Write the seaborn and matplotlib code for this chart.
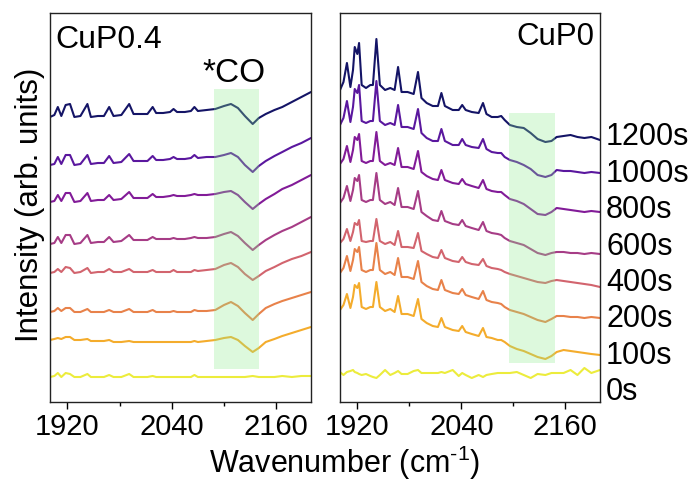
import numpy as np
import pandas as pd
import matplotlib
matplotlib.use("Agg")
import matplotlib.pyplot as plt
from matplotlib.ticker import MultipleLocator, NullLocator
import seaborn as sns

# ---------------- data ----------------
times = ["1200s", "1000s", "800s", "600s", "400s", "200s", "100s", "0s"]
colors = ["#141466", "#5a179e", "#821b98", "#a63c86", "#d2646e", "#e8824a", "#f4ac2c", "#ecec3c"]

# CuP0.4 panel
x_left = [1900, 1905, 1909, 1913, 1918, 1923, 1928, 1935, 1943, 1947, 1955, 1962, 1968, 1973, 1982,
          1991, 1996, 2005, 2012, 2018, 2022, 2030, 2038, 2042, 2046, 2055, 2062, 2066, 2070, 2080,
          2090, 2100, 2108, 2116, 2124, 2133, 2140, 2148, 2158, 2167, 2178, 2189, 2200]
offsets_left = [285, 237, 200, 158, 129, 90, 62, 25]
left_1200s = [0, 2, 10, 1, 12, 13, 0, 1, 13, 0, 1, 1, 10, 1, 2, 13, 3, 3, 3, 10, 4, 4, 5, 8, 5, 5, 6, 10, 6, 7,
              8, 11, 13, 9, 1, -7, -1, 3, 7, 10, 15, 20, 25]
left_1000s = [0, 1, 8, 1, 10, 10, 0, 1, 10, 1, 2, 2, 9, 2, 3, 11, 4, 4, 4, 9, 5, 5, 6, 8, 6, 6, 7, 10, 7, 8,
              8, 10, 12, 8, 0, -7, -1, 4, 9, 13, 18, 22, 27]
left_800s = [0, 1, 7, 1, 9, 9, 0, 1, 9, 1, 2, 2, 7, 2, 3, 10, 4, 4, 4, 8, 5, 5, 6, 7, 6, 6, 7, 8, 7, 7,
             8, 10, 11, 7, 0, -7, -2, 3, 8, 13, 17, 22, 27]
left_600s = [0, 1, 7, 1, 9, 9, 0, 1, 9, 1, 2, 2, 7, 2, 3, 9, 4, 4, 4, 7, 5, 5, 5, 6, 5, 5, 6, 7, 6, 6,
             7, 10, 12, 8, 1, -6, -1, 4, 9, 13, 17, 22, 27]
left_400s = [0, 1, 4, 1, 6, 5, 0, 1, 5, 0, 1, 1, 4, 1, 1, 4, 1, 1, 1, 3, 1, 1, 1, 3, 1, 1, 1, 3, 2, 3,
             4, 8, 10, 6, -1, -7, -3, 2, 6, 10, 14, 17, 21]
left_200s = [0, 1, 4, 1, 4, 4, 0, 0, 3, 0, 0, 0, 2, 0, 0, 3, 0, 0, 0, 2, 0, 0, 0, 1, 0, 0, 0, 2, 1, 1,
             2, 7, 10, 6, -1, -8, -2, 4, 8, 11, 14, 17, 20]
left_100s = [0, 1, 2, 1, 3, 3, 0, 0, 1, -1, -1, -1, 0, -2, -2, -1, -2, -2, -2, -2, -2, -2, -2, -2, -2, -2, -2, -1, -2, -1,
             0, 2, 3, 0, -6, -12, -8, -2, 1, 4, 7, 10, 13]
left_0s = [0, 1, 4, 0, 4, 3, 0, 0, 3, 0, 0, 0, 2, 0, 0, 3, 0, 0, 0, 1, 0, 0, 0, 0, 0, 0, 0, 2, 0, 0,
           0, 0, 0, 0, 0, 1, 0, 0, 0, 1, 0, 1, 1]

# CuP0 panel
x_right = [1900, 1904, 1908, 1912, 1915, 1917, 1920, 1922, 1925, 1930, 1935, 1938, 1942, 1946, 1952, 1958,
           1963, 1967, 1971, 1978, 1985, 1990, 1994, 2000, 2007, 2013, 2017, 2021, 2030, 2037, 2041, 2045,
           2052, 2060, 2065, 2069, 2075, 2082, 2086, 2090, 2096, 2104, 2112, 2120, 2128, 2137, 2144, 2150,
           2158, 2166, 2174, 2182, 2190, 2200]
offsets_right = [312, 277, 238, 199, 159, 129, 92, 30]
right_1200s = [0, 8, 27, 3, 20, 43, 36, 47, 5, 2, 5, 5, 51, 5, 0, 2, 0, 23, -2, -2, -4, 18, -8, -13, -16, -16,
               -3, -16, -20, -20, -15, -20, -22, -23, -13, -24, -27, -27, -26, -30, -35, -37, -38, -43, -49, -52,
               -51, -47, -46, -45, -47, -48, -47, -50]
right_1000s = [0, 7, 24, 3, 18, 36, 32, 40, 4, 2, 4, 4, 44, 4, 0, 2, 0, 20, -2, -2, -4, 16, -8, -13, -16, -16,
               -4, -16, -20, -20, -14, -20, -22, -23, -14, -24, -27, -28, -28, -32, -35, -37, -40, -44, -50, -52,
               -50, -45, -46, -46, -47, -48, -47, -48]
right_800s = [0, 5, 18, 2, 14, 27, 24, 30, 3, 1, 3, 3, 32, 3, -1, 1, -1, 16, -3, -3, -5, 13, -8, -12, -15, -16,
              -6, -16, -19, -20, -15, -20, -22, -24, -16, -25, -27, -28, -28, -31, -35, -37, -40, -45, -50, -51,
              -48, -44, -45, -46, -47, -48, -47, -48]
right_600s = [0, 5, 17, 2, 13, 25, 22, 28, 3, 1, 3, 3, 30, 3, -1, 1, -2, 15, -4, -4, -6, 12, -9, -13, -17, -18,
              -8, -18, -21, -22, -17, -23, -25, -27, -19, -28, -30, -31, -32, -35, -38, -40, -42, -46, -50, -52,
              -50, -49, -49, -50, -50, -51, -50, -51]
right_400s = [0, 4, 14, 2, 11, 20, 18, 23, 2, 1, 2, 2, 24, 2, -1, 1, -2, 12, -4, -4, -5, 10, -8, -11, -14, -15,
              -7, -15, -18, -19, -14, -19, -21, -22, -16, -23, -25, -26, -27, -29, -31, -33, -35, -37, -39, -40,
              -38, -37, -38, -39, -40, -41, -42, -44]
right_200s = [0, 5, 17, 2, 13, 24, 21, 26, 3, 1, 3, 3, 30, 3, -1, 1, -2, 15, -4, -4, -6, 12, -9, -13, -16, -17,
              -7, -17, -20, -21, -16, -22, -24, -26, -18, -27, -29, -30, -31, -34, -37, -39, -41, -44, -47, -49,
              -46, -43, -43, -44, -44, -45, -44, -45]
right_100s = [0, 5, 16, 2, 13, 25, 22, 27, 3, 1, 3, 3, 28, 3, -1, 1, -2, 14, -4, -4, -6, 11, -9, -13, -16, -17,
              -8, -17, -20, -21, -16, -22, -24, -26, -18, -27, -28, -30, -30, -32, -36, -39, -41, -44, -47, -49,
              -46, -42, -40, -41, -42, -43, -44, -45]
right_0s = [0, -3, 0, 1, 2, 0, -1, -2, -3, -2, -4, -5, -6, -3, 2, -3, -1, 1, -2, -2, 1, 2, -1, -1, -1, -1,
            0, -1, 2, -4, -1, -3, -6, -3, -5, -3, -2, -1, -1, -1, -1, 0, -3, -6, -2, -3, -1, -1, -1, 2,
            -3, 4, -1, 2]

left_curves = [left_1200s, left_1000s, left_800s, left_600s, left_400s, left_200s, left_100s, left_0s]
right_curves = [right_1200s, right_1000s, right_800s, right_600s, right_400s, right_200s, right_100s, right_0s]

band_left = [2088, 2140, 33, 313]    # x0, x1, y0, y1
band_right = [2095, 2148, 39, 289]
xticks = [1920, 2040, 2160]
xlim = [1900, 2200]
ylim = [0, 389]

# ---------------- style ----------------
sns.set_theme(style="white")
plt.rcParams["font.family"] = ["Liberation Sans", "DejaVu Sans"]
plt.rcParams["mathtext.fontset"] = "custom"
plt.rcParams["mathtext.rm"] = "Liberation Sans"
plt.rcParams["mathtext.it"] = "Liberation Sans:italic"
plt.rcParams["mathtext.default"] = "regular"
plt.rcParams["text.color"] = "black"
plt.rcParams["axes.labelcolor"] = "black"
plt.rcParams["xtick.color"] = "black"
plt.rcParams["xtick.labelcolor"] = "black"

W, H = 699, 483
fig = plt.figure(figsize=(W / 100, H / 100), dpi=100)
axL = fig.add_axes([50 / W, 1 - 402 / H, 261 / W, 389 / H])
axR = fig.add_axes([340 / W, 1 - 402 / H, 260 / W, 389 / H])


def draw(ax, xs, curves, offsets, band):
    for vals, off, col, t in zip(curves, offsets, colors, times):
        df = pd.DataFrame({"x": xs, "y": np.array(vals) + off})
        sns.lineplot(data=df, x="x", y="y", ax=ax, color=col, linewidth=1.5,
                     estimator=None, sort=False, zorder=2)
    ax.set_xlim(*xlim)
    ax.set_ylim(*ylim)
    y0 = (band[2] - ylim[0]) / (ylim[1] - ylim[0])
    y1 = (band[3] - ylim[0]) / (ylim[1] - ylim[0])
    ax.axvspan(band[0], band[1], ymin=y0, ymax=y1, color="#90ee90", alpha=0.3,
               lw=0, zorder=3)
    ax.xaxis.set_major_locator(MultipleLocator(120))
    ax.xaxis.set_minor_locator(MultipleLocator(60))
    ax.set_xticks(xticks)
    ax.yaxis.set_major_locator(NullLocator())
    ax.tick_params(axis="x", which="major", direction="out", length=5, width=1,
                   labelsize=21, pad=3, bottom=True, colors="black")
    ax.tick_params(axis="x", which="minor", direction="out", length=3, width=1,
                   bottom=True, colors="black")
    ax.set_xlabel("")
    ax.set_ylabel("")
    for s in ax.spines.values():
        s.set_color("#222222")
        s.set_linewidth(1.0)


draw(axL, x_left, left_curves, offsets_left, band_left)
draw(axR, x_right, right_curves, offsets_right, band_right)

axL.text(1906, 354, "CuP0.4", fontsize=23, ha="left", va="baseline", color="black")
axL.text(2075, 320, "*CO", fontsize=24, ha="left", va="baseline", color="black")
axR.text(2194, 357, "CuP0", fontsize=22.5, ha="right", va="baseline", color="black")

label_y = [257, 220, 184, 147, 111, 75, 38, 2]
for t, yy in zip(times, label_y):
    axR.text(2207, yy, t, fontsize=22, ha="left", va="baseline", clip_on=False, color="black")

fig.text(345 / W, 1 - 473 / H, "Wavenumber (cm$^{\u2010 1}$)", fontsize=22,
         ha="center", va="baseline", color="black")
fig.text(30 / W, 1 - 204.5 / H, "Intensity (arb. units)", fontsize=22.5,
         ha="center", va="center", rotation=90, color="black")

fig.savefig("out.png", dpi=100)
